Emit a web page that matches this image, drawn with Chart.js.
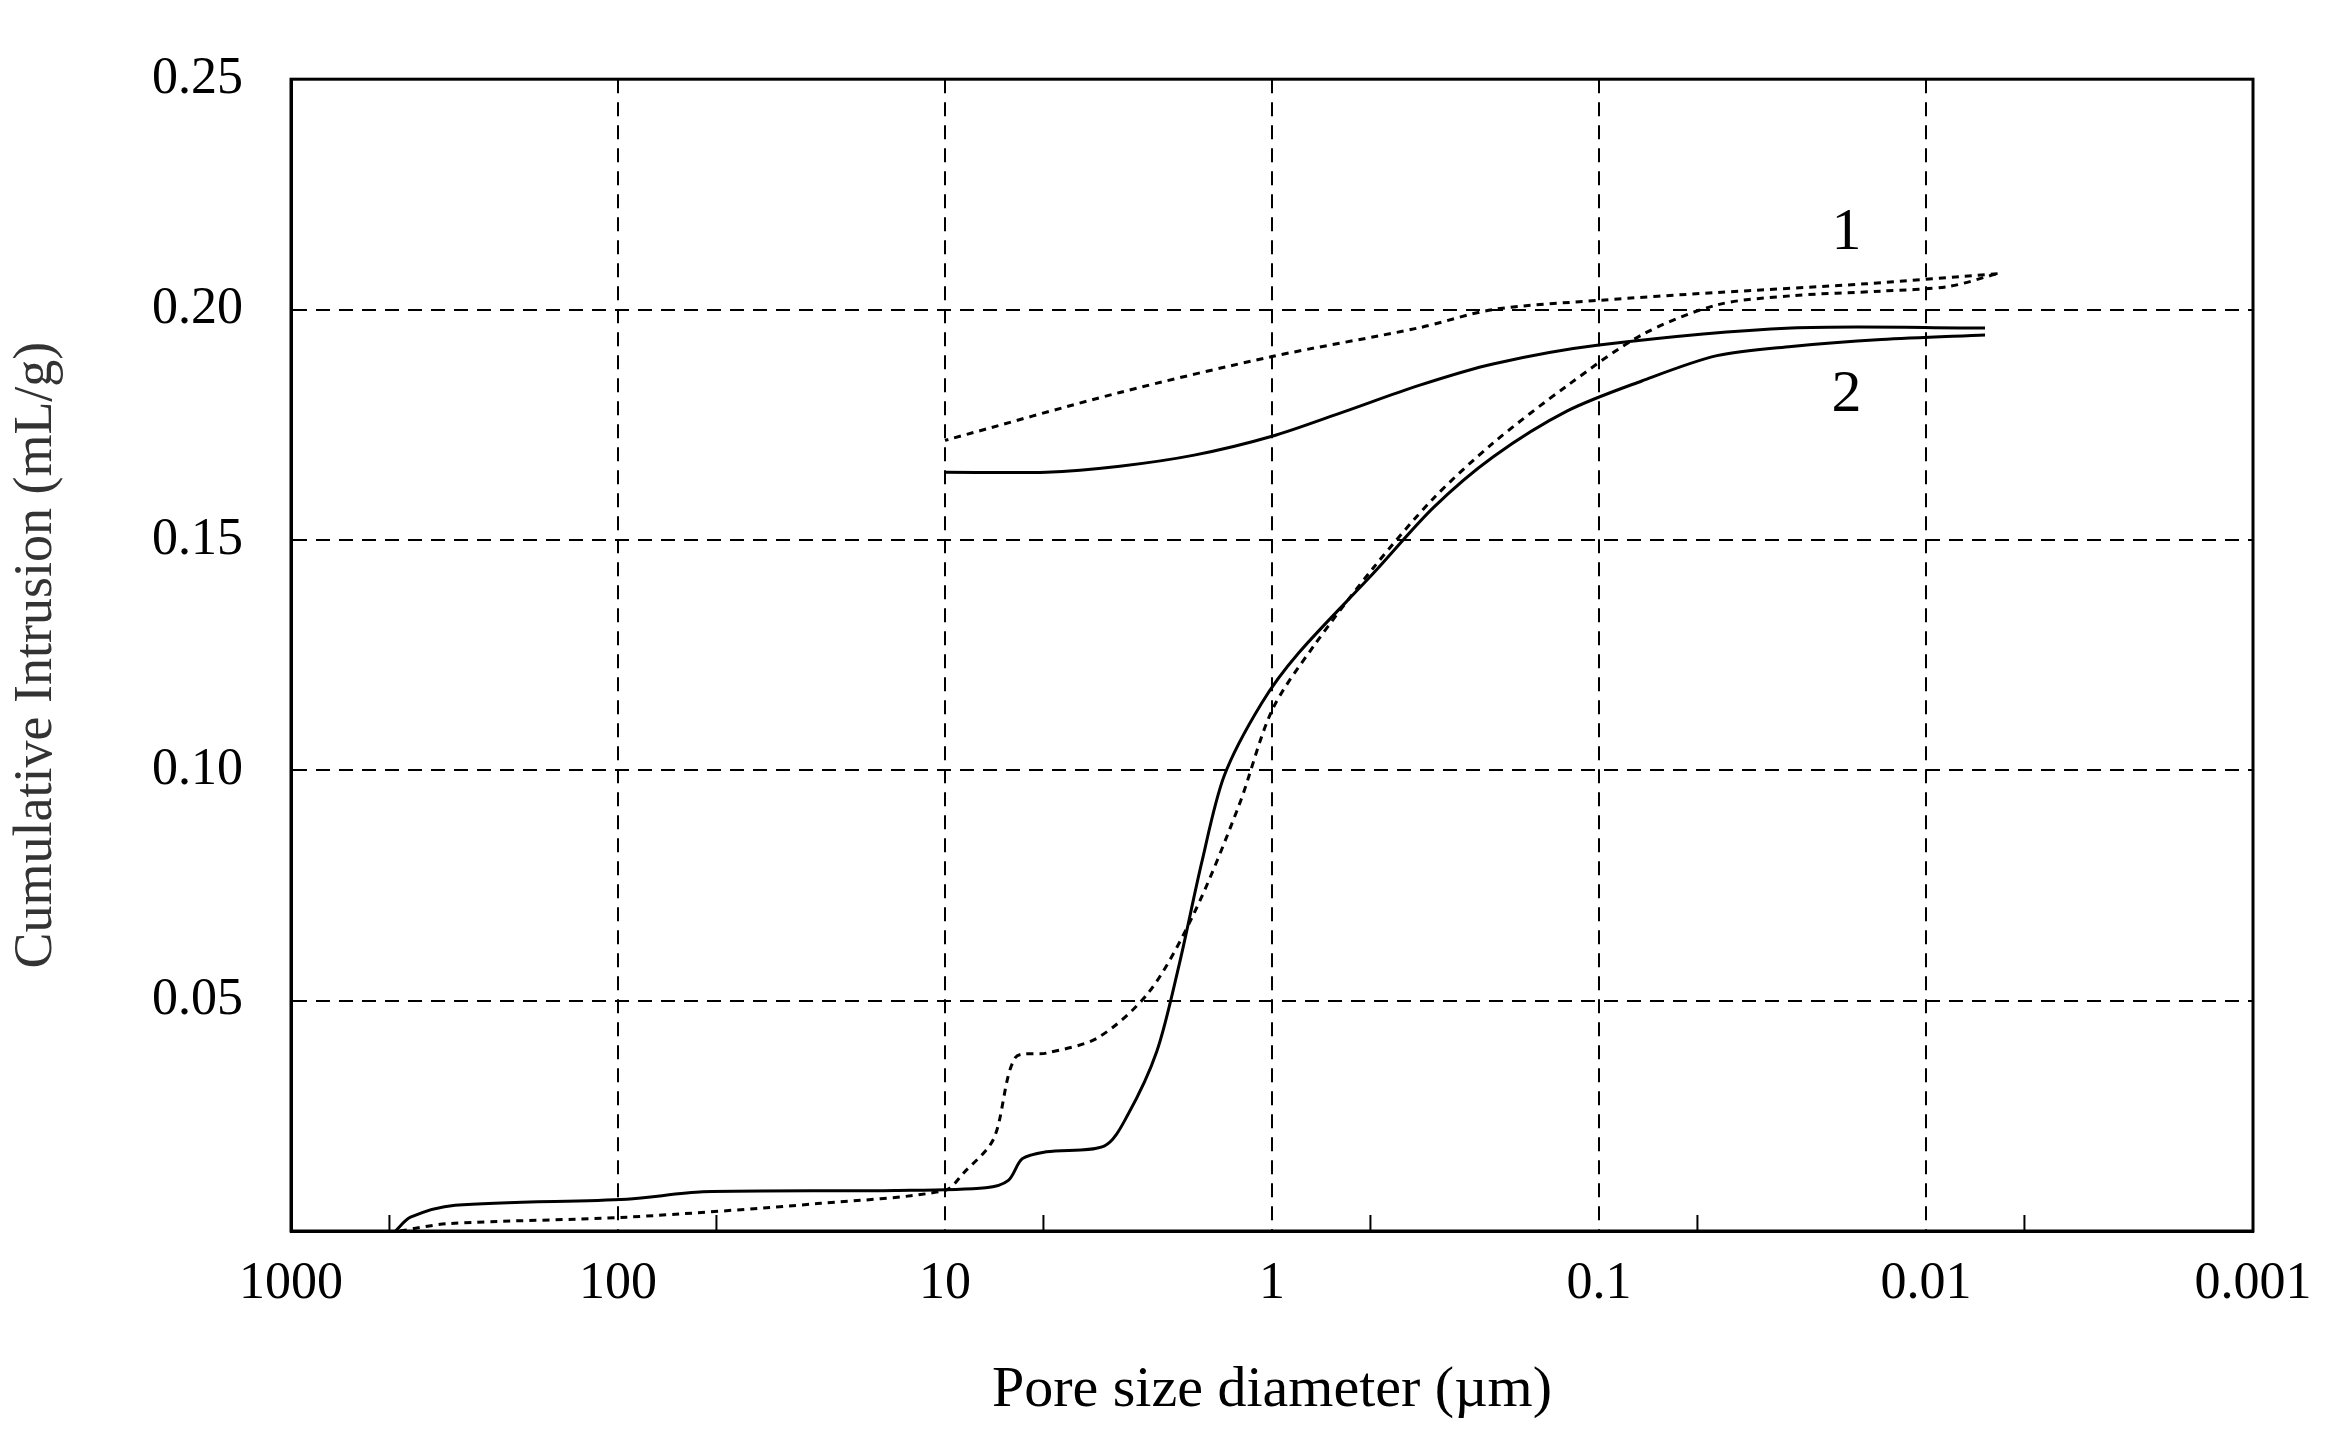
<!DOCTYPE html>
<html>
<head>
<meta charset="utf-8">
<script src="https://cdn.jsdelivr.net/npm/chart.js@4/dist/chart.umd.min.js"></script>
<style>
  html, body { margin: 0; padding: 0; background: #fff; }
  #wrap { width: 2340px; height: 1430px; }
</style>
</head>
<body>
<div id="wrap"><canvas id="poreChart"></canvas></div>
<script>
// pore diameter (um) / cumulative intrusion (mL/g)
const s1IntrusionD = [464, 331, 94, 24, 10, 8.8, 7.1, 6.1, 4.9, 3.4, 2.37, 1.73, 1.26, 1, 0.745, 0.489, 0.321, 0.211, 0.125, 0.074, 0.0436, 0.0258, 0.0137, 0.00855, 0.00604];
const s1IntrusionV = [0, 0.0016, 0.003, 0.006, 0.0088, 0.0125, 0.020, 0.0376, 0.0386, 0.042, 0.052, 0.069, 0.0925, 0.113, 0.127, 0.144, 0.159, 0.171, 0.1835, 0.1945, 0.201, 0.203, 0.204, 0.205, 0.2078];
const s1ExtrusionD = [0.00604, 0.0152, 0.0436, 0.1, 0.211, 0.357, 1, 2.92, 10];
const s1ExtrusionV = [0.2078, 0.2056, 0.2037, 0.202, 0.200, 0.196, 0.1898, 0.182, 0.1716];

const s2IntrusionD = [479, 431, 315, 94, 55, 14.2, 7.5, 6.4, 5.8, 4.9, 3.25, 2.77, 2.25, 1.92, 1.64, 1.4, 1.077, 0.828, 0.489, 0.321, 0.211, 0.125, 0.074, 0.0436, 0.0258, 0.0137, 0.0066];
const s2IntrusionV = [0, 0.003, 0.0056, 0.0069, 0.0085, 0.0088, 0.0094, 0.011, 0.0157, 0.0172, 0.0185, 0.025, 0.039, 0.058, 0.080, 0.0988, 0.1145, 0.1255, 0.1428, 0.157, 0.168, 0.178, 0.1845, 0.190, 0.192, 0.1935, 0.1945];
const s2ExtrusionD = [0.0066, 0.0258, 0.1, 0.211, 0.357, 0.604, 1, 1.73, 2.92, 4.9, 10];
const s2ExtrusionV = [0.196, 0.196, 0.1923, 0.1882, 0.1835, 0.1778, 0.1725, 0.1684, 0.166, 0.1647, 0.1647];

const xTicks = [1000, 500, 100, 50, 10, 5, 1, 0.5, 0.1, 0.05, 0.01, 0.005, 0.001];
const xDecadeLabels = ['1000', '100', '10', '1', '0.1', '0.01', '0.001'];
const yTickValues = [0, 0.05, 0.10, 0.15, 0.20, 0.25];

const curveLabels = [
    { text: '1', x: 0.0175, y: 0.2165 },
    { text: '2', x: 0.0175, y: 0.1815 }
];

const FONT = '"Liberation Serif", "Times New Roman", serif';

function pts(xs, ys) {
    return xs.map((x, i) => ({ x: x, y: ys[i] }));
}
function isDecade(v) {
    return xDecadeLabels.includes(String(+v.toPrecision(3)));
}

function line(data, dashed) {
    return {
        data: data,
        showLine: true,
        borderColor: '#000',
        borderWidth: 3,
        borderDash: dashed ? [7, 6] : [],
        pointRadius: 0,
        tension: 0.3,
        fill: false
    };
}

// inward minor ticks on the x axis plus the "1" / "2" curve labels
const extras = {
    id: 'extras',
    afterDatasetsDraw(chart) {
        const ctx = chart.ctx;
        const xs = chart.scales.x, ys = chart.scales.y;
        const area = chart.chartArea;
        ctx.save();
        ctx.strokeStyle = '#000';
        ctx.lineWidth = 2;
        xTicks.forEach(v => {
            if (isDecade(v)) return;
            const px = xs.getPixelForValue(v);
            ctx.beginPath();
            ctx.moveTo(px, area.bottom);
            ctx.lineTo(px, area.bottom - 16);
            ctx.stroke();
        });
        ctx.fillStyle = '#000';
        ctx.font = '60px ' + FONT;
        ctx.textAlign = 'center';
        ctx.textBaseline = 'middle';
        curveLabels.forEach(l => {
            ctx.fillText(l.text, xs.getPixelForValue(l.x), ys.getPixelForValue(l.y));
        });
        // solid frame
        ctx.lineWidth = 3;
        ctx.strokeRect(area.left, area.top, area.right - area.left, area.bottom - area.top);
        ctx.restore();
    }
};

new Chart(document.getElementById('poreChart'), {
    type: 'scatter',
    data: {
        datasets: [
            line(pts(s1IntrusionD, s1IntrusionV), true),
            line(pts(s1ExtrusionD, s1ExtrusionV), true),
            line(pts(s2IntrusionD, s2IntrusionV), false),
            line(pts(s2ExtrusionD, s2ExtrusionV), false)
        ]
    },
    options: {
        responsive: true,
        maintainAspectRatio: false,
        animation: false,
        layout: { padding: { top: 10, right: 87, left: 0, bottom: 0 } },
        plugins: { legend: { display: false }, tooltip: { enabled: false } },
        scales: {
            x: {
                type: 'logarithmic',
                reverse: true,
                min: 0.001,
                max: 1000,
                afterBuildTicks: axis => { axis.ticks = xTicks.map(v => ({ value: v })); },
                afterFit: axis => { axis.height = 199; },
                border: { display: true, color: '#000', width: 3, dash: [14, 9] },
                grid: {
                    drawTicks: false,
                    lineWidth: 2,
                    color: c => isDecade(c.tick.value) ? '#000' : 'rgba(0,0,0,0)'
                },
                ticks: {
                    autoSkip: false,
                    maxRotation: 0,
                    padding: 22,
                    color: '#000',
                    font: { family: FONT, size: 52 },
                    callback: v => isDecade(v) ? String(+v.toPrecision(3)) : ''
                },
                title: {
                    display: true,
                    text: 'Pore size diameter (\u00b5m)',
                    color: '#000',
                    font: { family: FONT, size: 58 },
                    padding: { top: 4 }
                }
            },
            y: {
                min: 0,
                max: 0.25,
                afterBuildTicks: axis => { axis.ticks = yTickValues.map(v => ({ value: v })); },
                afterFit: axis => { axis.width = 291; },
                border: { display: true, color: '#000', width: 3, dash: [14, 9] },
                grid: { drawTicks: false, lineWidth: 2, color: '#000' },
                ticks: {
                    padding: 48,
                    color: '#000',
                    font: { family: FONT, size: 52 },
                    callback: v => v === 0 ? '' : v.toFixed(2)
                },
                title: {
                    display: true,
                    text: 'Cumulative Intrusion (mL/g)',
                    color: '#333',
                    font: { family: FONT, size: 54 },
                    padding: { bottom: 4 }
                }
            }
        }
    },
    plugins: [extras]
});
</script>
</body>
</html>
